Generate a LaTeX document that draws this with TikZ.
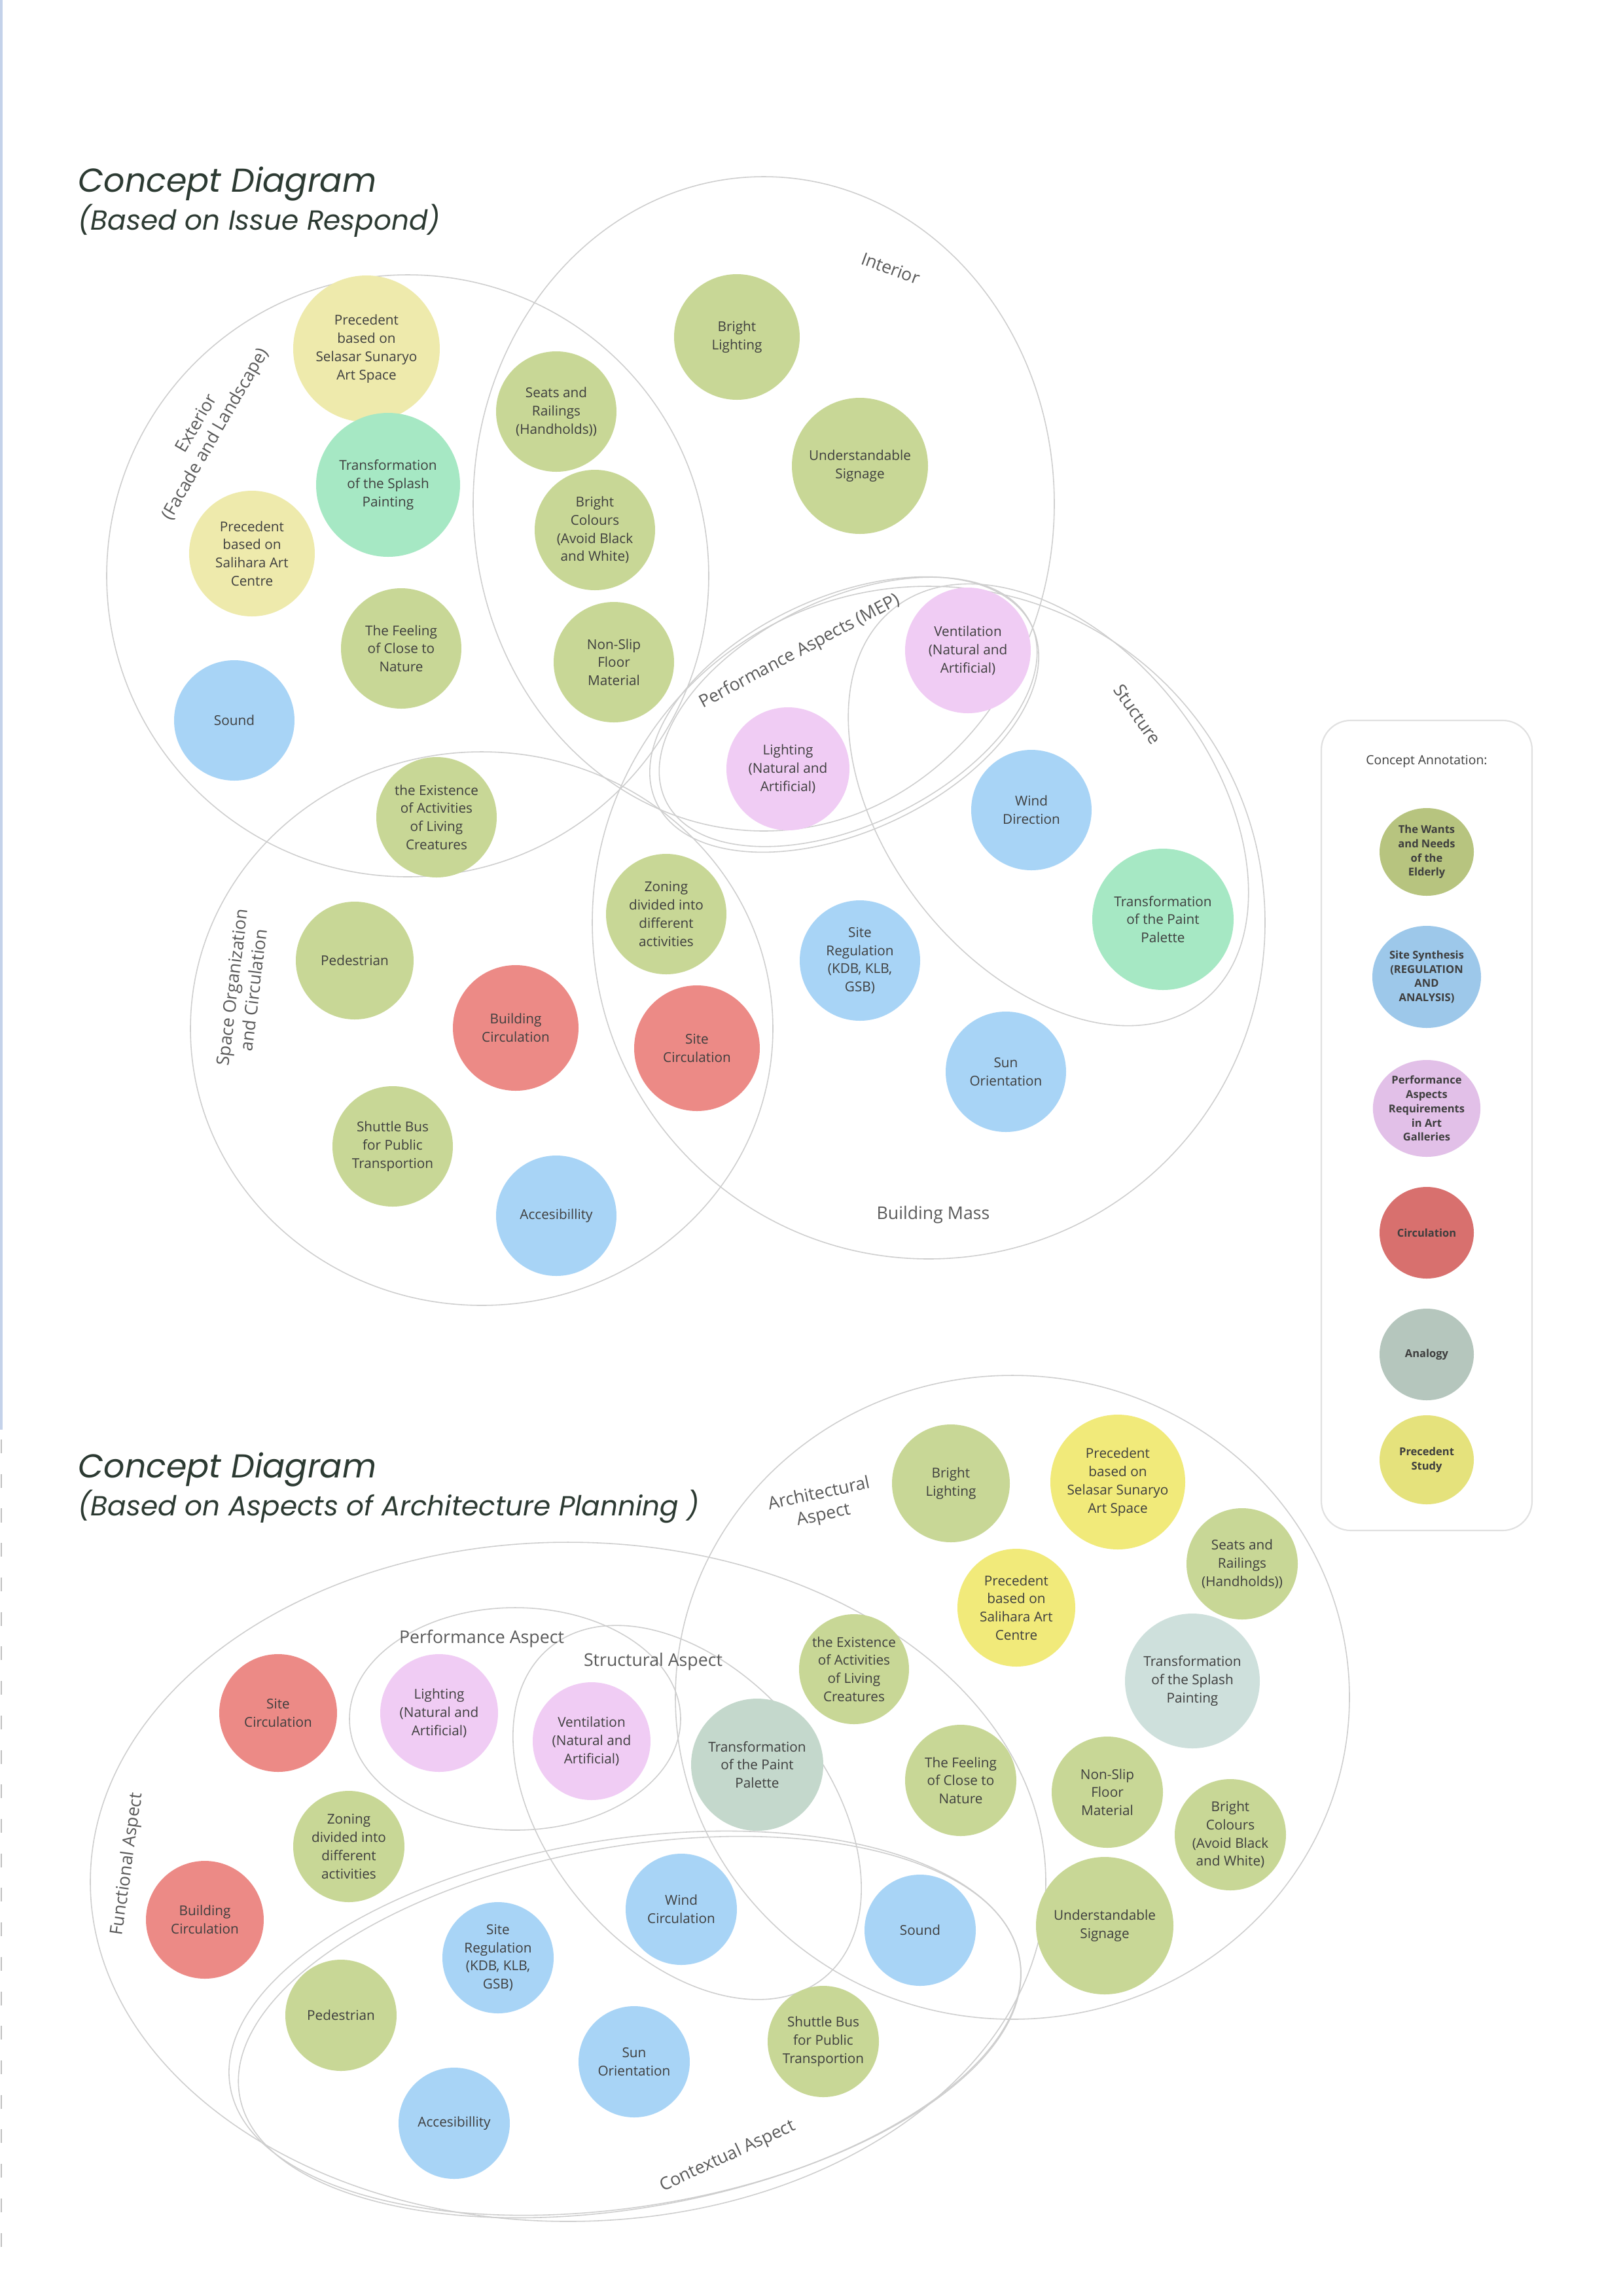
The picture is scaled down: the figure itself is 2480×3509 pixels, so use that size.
\documentclass[tikz,border=0pt]{standalone}
\usepackage{fontspec}
\setmainfont{Open Sans}
\newfontfamily\titlefont{Poppins}
\usetikzlibrary{shapes.geometric}
\definecolor{olv}{RGB}{200,215,150}
\definecolor{ylwp}{RGB}{238,234,172}
\definecolor{ylwb}{RGB}{241,234,122}
\definecolor{mint}{RGB}{166,232,196}
\definecolor{blu}{RGB}{168,212,246}
\definecolor{pnk}{RGB}{240,204,244}
\definecolor{rd}{RGB}{236,138,134}
\definecolor{anaA}{RGB}{196,216,204}
\definecolor{anaB}{RGB}{206,224,220}
\definecolor{lolv}{RGB}{183,196,127}
\definecolor{lblu}{RGB}{157,200,234}
\definecolor{lpnk}{RGB}{226,192,232}
\definecolor{lred}{RGB}{216,112,110}
\definecolor{lana}{RGB}{181,198,189}
\definecolor{lylw}{RGB}{229,226,124}
\definecolor{ringc}{RGB}{206,206,206}
\definecolor{txt}{RGB}{62,62,62}
\definecolor{lbl}{RGB}{90,90,90}
\definecolor{ttl}{RGB}{44,58,50}
\begin{document}
\begin{tikzpicture}[x=0.1mm,y=-0.1mm,
  ring/.style={draw=ringc,line width=0.45pt},
  bub/.style={circle,inner sep=0pt,align=center,text=txt,font=\fontsize{5.9}{7.9}\selectfont},
  lab/.style={text=lbl,align=center,font=\fontsize{7.6}{9.4}\selectfont},
  leg/.style={ellipse,inner sep=0pt,align=center,text=txt,font=\fontsize{4.7}{6.2}\selectfont\bfseries},
  ttlA/.style={anchor=base west,text=ttl,inner sep=0pt,font=\titlefont\itshape\fontsize{14.4}{17}\selectfont},
  ttlB/.style={anchor=base west,text=ttl,inner sep=0pt,font=\titlefont\itshape\fontsize{12}{14}\selectfont}]
\fill[white] (0,0) rectangle (2480,3509);
\useasboundingbox (0,0) rectangle (2480,3509);
\draw[line width=1pt,draw={rgb,255:red,196;green,210;blue,234}] (2,0) -- (2,2185);
\draw[line width=0.7pt,draw=black!25,dash pattern=on 6pt off 9pt] (2,2200) -- (2,3460);

% ---------------- titles
\node[ttlA] (tA1) at (119,293) {Concept Diagram};
\node[ttlB] (tA2) at (119,351) {(Based on Issue Respond)};
\node[ttlA] (tB1) at (119,2258) {Concept Diagram};
\node[ttlB] (tB2) at (119,2316) {(Based on Aspects of Architecture Planning )};

% ---------------- top diagram rings
\draw[ring] (623,880) circle[radius=46mm];
\draw[ring] (1167,770) ellipse[x radius=44.4mm,y radius=50mm];
\draw[ring] (736,1572) ellipse[x radius=44.5mm,y radius=42.3mm];
\draw[ring] (1419,1410) circle[radius=51.4mm];
\draw[ring,rotate around={25:(1290,1092)}] (1290,1092) ellipse[x radius=31.7mm,y radius=17.9mm];
\draw[ring,rotate around={26:(1296,1088)}] (1296,1088) ellipse[x radius=31.0mm,y radius=17.2mm];
\draw[ring,rotate around={-52:(1602,1230)}] (1602,1230) ellipse[x radius=38.2mm,y radius=24.8mm];

% ---------------- top labels
\node[lab,rotate=-20] (lInt) at (1361,410) {Interior};
\node[lab,rotate=60] (lExt) at (316,656) {Exterior\\(Facade and Landscape)};
\node[lab,rotate=28] (lPerf) at (1222,996) {Performance Aspects (MEP)};
\node[lab,rotate=-55] (lStr) at (1738,1092) {Stucture};
\node[lab,rotate=83] (lSpace) at (371,1511) {Space Organization\\and Circulation};
\node[lab] (lMass) at (1426,1857) {Building Mass};

% ---------------- top bubbles
\node[bub,fill=ylwp,minimum size=22.4mm] (t1) at (560,533) {Precedent\\based on\\Selasar Sunaryo\\Art Space};
\node[bub,fill=mint,minimum size=22mm] (t2) at (593,741) {Transformation\\of the Splash\\Painting};
\node[bub,fill=ylwp,minimum size=19.2mm] (t3) at (385,846) {Precedent\\based on\\Salihara Art\\Centre};
\node[bub,fill=olv,minimum size=18.4mm] (t4) at (613,991) {The Feeling\\of Close to\\Nature};
\node[bub,fill=blu,minimum size=18.4mm] (t5) at (358,1101) {Sound};
\node[bub,fill=olv,minimum size=19.2mm] (t6) at (1126,515) {Bright\\Lighting};
\node[bub,fill=olv,minimum size=18.4mm] (t7) at (850,629) {Seats and\\Railings\\(Handholds))};
\node[bub,fill=olv,minimum size=20.8mm] (t8) at (1314,712) {Understandable\\Signage};
\node[bub,fill=olv,minimum size=18.4mm] (t9) at (909,810) {Bright\\Colours\\(Avoid Black\\and White)};
\node[bub,fill=olv,minimum size=18.4mm] (t10) at (938,1012) {Non-Slip\\Floor\\Material};
\node[bub,fill=pnk,minimum size=19.2mm] (t11) at (1479,994) {Ventilation\\(Natural and\\Artificial)};
\node[bub,fill=pnk,minimum size=18.8mm] (t12) at (1204,1175) {Lighting\\(Natural and\\Artificial)};
\node[bub,fill=blu,minimum size=18.4mm] (t13) at (1576,1238) {Wind\\Direction};
\node[bub,fill=mint,minimum size=21.6mm] (t14) at (1777,1405) {Transformation\\of the Paint\\Palette};
\node[bub,fill=olv,minimum size=18.4mm] (t15) at (667,1249) {the Existence\\of Activities\\of Living\\Creatures};
\node[bub,fill=olv,minimum size=18mm] (t16) at (542,1468) {Pedestrian};
\node[bub,fill=olv,minimum size=18.4mm] (t17) at (1018,1397) {Zoning\\divided into\\different\\activities};
\node[bub,fill=blu,minimum size=18.4mm] (t18) at (1314,1468) {Site\\Regulation\\(KDB, KLB,\\GSB)};
\node[bub,fill=rd,minimum size=19.2mm] (t19) at (788,1571) {Building\\Circulation};
\node[bub,fill=rd,minimum size=19.2mm] (t20) at (1065,1602) {Site\\Circulation};
\node[bub,fill=blu,minimum size=18.4mm] (t21) at (1537,1638) {Sun\\Orientation};
\node[bub,fill=olv,minimum size=18.4mm] (t22) at (600,1752) {Shuttle Bus\\for Public\\Transportion};
\node[bub,fill=blu,minimum size=18.4mm] (t23) at (850,1858) {Accesibillity};

% ---------------- legend
\draw[draw=black!12,line width=0.6pt,rounded corners=4.5mm] (2019,1101) rectangle (2341,2339);
\node[text=txt,font=\fontsize{5.5}{7}\selectfont] (lgT) at (2180,1164) {Concept Annotation:};
\node[leg,fill=lolv,minimum width=14.4mm,minimum height=13.4mm] (l1) at (2180,1302) {The Wants\\and Needs\\of the\\Elderly};
\node[leg,fill=lblu,minimum width=16.6mm,minimum height=15.6mm] (l2) at (2180,1493) {Site Synthesis\\(REGULATION\\AND\\ANALYSIS)};
\node[leg,fill=lpnk,minimum width=16.2mm,minimum height=14.8mm] (l3) at (2180,1694) {Performance\\Aspects\\Requirements\\in Art\\Galleries};
\node[leg,fill=lred,minimum width=14.4mm,minimum height=14mm] (l4) at (2180,1884) {Circulation};
\node[leg,fill=lana,minimum width=14.4mm,minimum height=14mm] (l5) at (2180,2070) {Analogy};
\node[leg,fill=lylw,minimum width=14.4mm,minimum height=13.6mm] (l6) at (2180,2231) {Precedent\\Study};

% ---------------- bottom diagram rings
\draw[ring] (1547,2594) ellipse[x radius=51.5mm,y radius=49.2mm];
\draw[ring] (868,2876) ellipse[x radius=73mm,y radius=51.9mm];
\draw[ring] (787,2627) ellipse[x radius=25.3mm,y radius=17mm];
\draw[ring,rotate around={-50:(1050,2770)}] (1050,2770) ellipse[x radius=32.8mm,y radius=21.2mm];
\draw[ring,rotate around={9:(955,3092)}] (955,3092) ellipse[x radius=61.1mm,y radius=28.1mm];
\draw[ring,rotate around={10:(962,3098)}] (962,3098) ellipse[x radius=60.5mm,y radius=27.6mm];

% ---------------- bottom labels
\node[lab,rotate=12] (bArch) at (1255,2300) {Architectural\\Aspect};
\node[lab] (bPerf) at (736,2504) {Performance Aspect};
\node[lab] (bStr) at (998,2540) {Structural Aspect};
\node[lab,rotate=82] (bFun) at (195,2849) {Functional Aspect};
\node[lab,rotate=25] (bCon) at (1112,3296) {Contextual Aspect};

% ---------------- bottom bubbles
\node[bub,fill=olv,minimum size=18mm] (b1) at (1453,2267) {Bright\\Lighting};
\node[bub,fill=ylwb,minimum size=20.6mm] (b2) at (1708,2265) {Precedent\\based on\\Selasar Sunaryo\\Art Space};
\node[bub,fill=olv,minimum size=17mm] (b3) at (1898,2390) {Seats and\\Railings\\(Handholds))};
\node[bub,fill=ylwb,minimum size=18mm] (b4) at (1553,2457) {Precedent\\based on\\Salihara Art\\Centre};
\node[bub,fill=olv,minimum size=16.8mm] (b5) at (1305,2551) {the Existence\\of Activities\\of Living\\Creatures};
\node[bub,fill=anaB,minimum size=20.6mm] (b6) at (1822,2569) {Transformation\\of the Splash\\Painting};
\node[bub,fill=anaA,minimum size=20.2mm] (b7) at (1157,2697) {Transformation\\of the Paint\\Palette};
\node[bub,fill=olv,minimum size=17mm] (b8) at (1468,2721) {The Feeling\\of Close to\\Nature};
\node[bub,fill=olv,minimum size=17mm] (b9) at (1692,2739) {Non-Slip\\Floor\\Material};
\node[bub,fill=olv,minimum size=17mm] (b10) at (1880,2804) {Bright\\Colours\\(Avoid Black\\and White)};
\node[bub,fill=olv,minimum size=21mm] (b11) at (1688,2943) {Understandable\\Signage};
\node[bub,fill=rd,minimum size=18mm] (b12) at (425,2618) {Site\\Circulation};
\node[bub,fill=pnk,minimum size=18mm] (b13) at (671,2618) {Lighting\\(Natural and\\Artificial)};
\node[bub,fill=pnk,minimum size=18mm] (b14) at (904,2661) {Ventilation\\(Natural and\\Artificial)};
\node[bub,fill=olv,minimum size=17mm] (b15) at (533,2822) {Zoning\\divided into\\different\\activities};
\node[bub,fill=rd,minimum size=18mm] (b16) at (313,2934) {Building\\Circulation};
\node[bub,fill=blu,minimum size=17mm] (b17) at (1041,2918) {Wind\\Circulation};
\node[bub,fill=blu,minimum size=17mm] (b18) at (1406,2950) {Sound};
\node[bub,fill=blu,minimum size=17mm] (b19) at (761,2992) {Site\\Regulation\\(KDB, KLB,\\GSB)};
\node[bub,fill=olv,minimum size=17mm] (b20) at (521,3080) {Pedestrian};
\node[bub,fill=blu,minimum size=17mm] (b21) at (969,3151) {Sun\\Orientation};
\node[bub,fill=olv,minimum size=17mm] (b22) at (1258,3120) {Shuttle Bus\\for Public\\Transportion};
\node[bub,fill=blu,minimum size=17mm] (b23) at (694,3245) {Accesibillity};
\end{tikzpicture}
\end{document}
